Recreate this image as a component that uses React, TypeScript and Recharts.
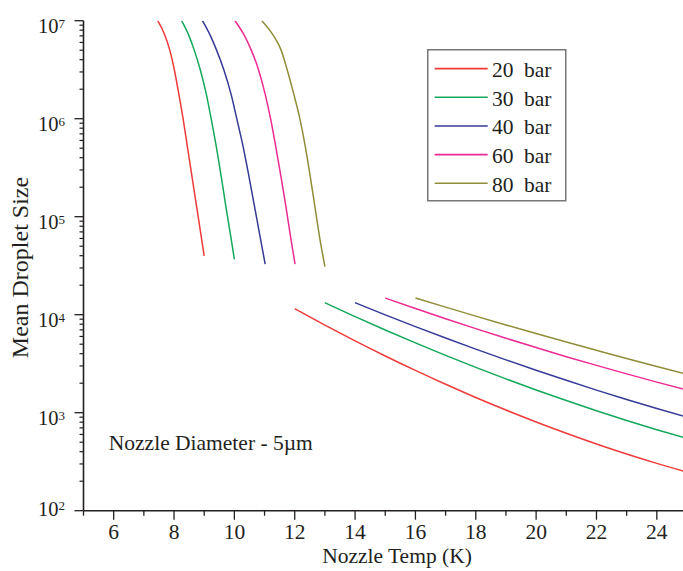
import React from "react";
import { LineChart, Line, XAxis, YAxis, Legend } from "recharts";

const FONT = '"Liberation Serif", "Times New Roman", serif';
const INK = "#231f20";
const txt = { fontFamily: FONT, fill: INK };

// [nozzle temp (K), mean droplet size] - liquid expansion branch (steep)
const bar20Liquid = [[7.46, 1e7], [7.7, 7.08e6], [7.86, 5.01e6], [8.01, 3.16e6], [8.16, 1.78e6], [8.3, 1e6], [8.45, 5.01e5], [8.6, 2.51e5], [8.75, 1.26e5], [8.9, 6.31e4], [9.0, 3.98e4]];
const bar30Liquid = [[8.25, 1e7], [8.49, 7.08e6], [8.67, 5.01e6], [8.87, 3.16e6], [9.07, 1.78e6], [9.23, 1e6], [9.41, 5.01e5], [9.57, 2.51e5], [9.72, 1.26e5], [9.88, 6.31e4], [10.0, 3.67e4]];
const bar40Liquid = [[8.94, 1e7], [9.2, 7.08e6], [9.41, 5.01e6], [9.65, 3.16e6], [9.89, 1.78e6], [10.08, 1e6], [10.3, 5.01e5], [10.49, 2.51e5], [10.67, 1.26e5], [10.85, 6.31e4], [11.02, 3.29e4]];
const bar60Liquid = [[10.02, 1e7], [10.33, 7.08e6], [10.56, 5.01e6], [10.8, 3.16e6], [11.02, 1.78e6], [11.2, 1e6], [11.38, 5.01e5], [11.55, 2.51e5], [11.71, 1.26e5], [11.86, 6.31e4], [12.01, 3.29e4]];
const bar80Liquid = [[10.91, 1e7], [11.29, 7.08e6], [11.55, 5.01e6], [11.75, 3.16e6], [11.97, 1.78e6], [12.17, 1e6], [12.36, 5.01e5], [12.52, 2.51e5], [12.67, 1.26e5], [12.82, 6.31e4], [13.0, 3.09e4]];

// gas expansion branch (shallow)
const bar20Gas = [[12, 11500], [13, 7830], [14, 5410], [15, 3790], [16, 2700], [17, 1950], [18, 1430], [19, 1064], [20, 804], [21, 617], [22, 480], [23, 379], [24, 304], [25, 248]];
const bar30Gas = [[13, 13240], [14, 9570], [15, 6990], [16, 5160], [17, 3850], [18, 2900], [19, 2213], [20, 1706], [21, 1330], [22, 1047], [23, 834], [24, 671], [25, 547]];
const bar40Gas = [[14, 13240], [15, 9960], [16, 7560], [17, 5780], [18, 4450], [19, 3460], [20, 2710], [21, 2140], [22, 1700], [23, 1366], [24, 1105], [25, 901]];
const bar60Gas = [[15, 14790], [16, 11570], [17, 9100], [18, 7210], [19, 5750], [20, 4620], [21, 3730], [22, 3040], [23, 2490], [24, 2050], [25, 1705]];
const bar80Gas = [[16, 14790], [17, 11940], [18, 9670], [19, 7860], [20, 6420], [21, 5260], [22, 4330], [23, 3570], [24, 2960], [25, 2465]];

const pressures = [20, 30, 40, 60, 80];
const colors = ["#ef3a3a", "#13a85a", "#353b95", "#ec2a94", "#8f8d38"];
const liquidBranches = [bar20Liquid, bar30Liquid, bar40Liquid, bar60Liquid, bar80Liquid];
const gasBranches = [bar20Gas, bar30Gas, bar40Gas, bar60Gas, bar80Gas];

const xTicks = [5, 6, 7, 8, 9, 10, 11, 12, 13, 14, 15, 16, 17, 18, 19, 20, 21, 22, 23, 24, 25];
const decades = [1e2, 1e3, 1e4, 1e5, 1e6, 1e7];
const yTicks = decades.flatMap((d, i) =>
  i === decades.length - 1 ? [d] : [1, 2, 3, 4, 5, 6, 7, 8, 9].map((m) => m * d)
);

// join both branches, with a null between so the line breaks
const toRows = (liquid: number[][], gas: number[][]) => [
  ...liquid.map(([t, v]) => ({ t, v })),
  { t: liquid[liquid.length - 1][0], v: null },
  ...gas.map(([t, v]) => ({ t, v })),
];

const series = pressures.map((p, i) => ({
  name: `${p} bar`,
  color: colors[i],
  rows: toRows(liquidBranches[i], gasBranches[i]),
}));

const XTick = (props: any) => {
  const { x, y, payload } = props;
  const major = payload.value % 2 === 0;
  return (
    <g>
      <line x1={x} x2={x} y1={y} y2={y + (major ? 9 : 5)} stroke={INK} strokeWidth={1.3} />
      {major && (
        <text x={x} y={y + 27.8} textAnchor="middle" fontSize={21.5} style={txt}>
          {payload.value}
        </text>
      )}
    </g>
  );
};

const YTick = (props: any) => {
  const { x, y, payload } = props;
  const v = payload.value;
  const exp = Math.round(Math.log10(v));
  const major = Math.abs(v - Math.pow(10, exp)) < v * 1e-6;
  if (!major) {
    return <line x1={x - 4} x2={x} y1={y} y2={y} stroke={INK} strokeWidth={1.2} />;
  }
  const base = exp === 2 ? y + 5 : y + 12.5;
  return (
    <g>
      <line x1={x - 9} x2={x} y1={y} y2={y} stroke={INK} strokeWidth={1.3} />
      <text x={x - 25} y={base} textAnchor="end" fontSize={20.5} style={txt}>
        10
      </text>
      <text x={x - 25} y={base - 5.5} textAnchor="start" fontSize={13} style={txt}>
        {exp}
      </text>
    </g>
  );
};

const LegendBox = (props: any) => {
  const { payload = [] } = props;
  return (
    <svg width={140} height={153} style={{ display: "block" }}>
      <rect x={0.75} y={0.75} width={138} height={151} fill="#fff" stroke="#777" strokeWidth={1.5} />
      {payload.map((entry: any, i: number) => {
        const cy = 19.6 + i * 28.67;
        const [num, unit] = String(entry.value).split(" ");
        return (
          <g key={entry.value}>
            <line x1={7.7} x2={60.7} y1={cy} y2={cy} stroke={entry.color} strokeWidth={1.6} />
            <text x={65} y={cy + 8.4} fontSize={21.5} style={txt}>
              {num}
            </text>
            <text x={97} y={cy + 8.4} fontSize={21.5} style={txt}>
              {unit}
            </text>
          </g>
        );
      })}
    </svg>
  );
};

export default function App() {
  return (
    <div
      style={{
        position: "absolute",
        left: 0,
        top: 0,
        width: 683,
        height: 571,
        overflow: "hidden",
        background: "#fff",
      }}
    >
      <LineChart width={700} height={571} margin={{ top: 20.7, right: 13, bottom: 0, left: 0 }}>
        <XAxis
          type="number"
          dataKey="t"
          domain={[5, 25]}
          ticks={xTicks}
          interval={0}
          height={60.3}
          tickSize={0}
          tickMargin={0}
          tickLine={false}
          axisLine={{ stroke: INK, strokeWidth: 1.6 }}
          tick={(p: any) => <XTick {...p} />}
          label={{
            content: () => (
              <text x={397} y={563} textAnchor="middle" fontSize={21.5} style={txt}>
                Nozzle Temp (K)
              </text>
            ),
          }}
        />
        <YAxis
          type="number"
          scale="log"
          domain={[100, 10000000]}
          allowDataOverflow
          ticks={yTicks}
          interval={0}
          width={83.5}
          tickSize={0}
          tickMargin={0}
          tickLine={false}
          axisLine={{ stroke: INK, strokeWidth: 1.6 }}
          tick={(p: any) => <YTick {...p} />}
          label={{
            content: () => (
              <text
                x={27.5}
                y={267.5}
                transform="rotate(-90, 27.5, 267.5)"
                textAnchor="middle"
                fontSize={24}
                style={txt}
              >
                Mean Droplet Size
              </text>
            ),
          }}
        />
        <Legend
          layout="vertical"
          align="center"
          verticalAlign="middle"
          wrapperStyle={{ left: 427, top: 48.7, width: 140, height: 153 }}
          content={(p: any) => <LegendBox {...p} />}
        />
        {series.map((s) => (
          <Line
            key={s.name}
            name={s.name}
            data={s.rows}
            dataKey="v"
            type="monotone"
            stroke={s.color}
            strokeWidth={1.5}
            dot={false}
            activeDot={false}
            connectNulls={false}
            isAnimationActive={false}
          />
        ))}
        <text x={108.8} y={450} fontSize={21.5} style={txt}>
          Nozzle Diameter - 5µm
        </text>
      </LineChart>
    </div>
  );
}
